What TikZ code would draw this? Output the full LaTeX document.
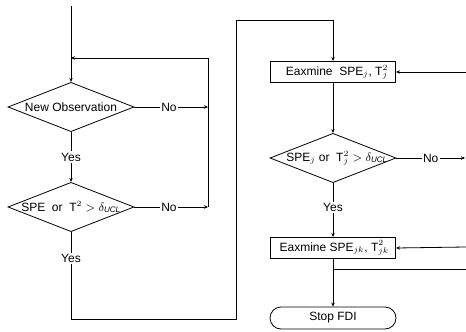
\documentclass[tikz,border=0pt]{standalone}
\usepackage{fontspec}
\setmainfont{Liberation Sans}
\usetikzlibrary{shapes.geometric,shapes.misc,arrows.meta}
\begin{document}
\begin{tikzpicture}[x=0.75pt,y=-0.75pt,
  font=\fontsize{9}{11}\selectfont,
  line width=0.6pt,
  >={Stealth[length=3pt,width=2.6pt]},
  dia/.style={draw, diamond, aspect=2.5, inner sep=0pt, minimum width=94.5pt, minimum height=37pt},
  box/.style={draw, rectangle, inner sep=0pt, minimum width=94pt, minimum height=16pt},
  term/.style={draw, rounded rectangle, inner sep=0pt, minimum width=94.5pt, minimum height=16.5pt},
  lbl/.style={fill=white, inner sep=1pt}]
\useasboundingbox (0,0) rectangle (466,331);
% left column
\node[dia] (d1) at (71,107) {\makebox[0pt]{New Observation}};
\node[dia] (d2) at (71,207) {\makebox[0pt]{SPE\ \ or\ \ T$^{2}>\delta_{\mathit{UCL}}$}};
% right column
\node[box] (e1) at (333,72) {\makebox[0pt]{\hspace{6pt}Eaxmine\ \ SPE$_{j}$, T$_{j}^{2}$}};
\node[dia] (d3) at (333,158) {\makebox[0pt]{\hspace{6pt}SPE$_{j}$\ or\ \ T$_{j}^{2}>\delta_{\mathit{UCL}}$}};
\node[box] (e2) at (333,248) {\makebox[0pt]{\hspace{2pt}Eaxmine SPE$_{jk}$, T$_{jk}^{2}$}};
\node[term] (stop) at (333,318) {Stop FDI};
% coordinates
\coordinate (top) at (71,6);
\coordinate (c1) at (208,58);
\coordinate (ll) at (71,58);
\coordinate (c0) at (208,107);
\coordinate (c2) at (208,207);
\coordinate (p1) at (71,319);
\coordinate (p2) at (236,319);
\coordinate (p3) at (236,20);
\coordinate (p4) at (333,20);
\coordinate (r1) at (466,72);
\coordinate (r2) at (465,158);
\coordinate (r3) at (466,247);
\coordinate (j) at (333,269);
\coordinate (r4) at (466,269);
% connectors
\draw[->] (top) -- (d1.north);
\draw[->] (c1) -- (ll);
\draw (c1) -- (c2);
\draw[->] (d1.east) -- node[lbl, pos=0.47]{No} (c0);
\draw[->] (d1.south) -- node[lbl]{Yes} (d2.north);
\draw[->] (d2.east) -- node[lbl, pos=0.47]{No} (c2);
\draw[->] (d2.south) -- node[lbl, pos=0.3]{Yes} (p1) -- (p2) -- (p3) -- (p4) -- (e1.north);
\draw[->] (r1) -- (e1.east);
\draw[->] (e1.south) -- (d3.north);
\draw[->] (d3.east) -- node[lbl, pos=0.5]{No} (r2);
\draw[->] (d3.south) -- node[lbl, pos=0.45]{Yes} (e2.north);
\draw[->] (r3) -- (e2.east);
\draw (e2.south) -- (j);
\draw (j) -- (r4);
\draw[->] (j) -- (stop.north);
\end{tikzpicture}
\end{document}
